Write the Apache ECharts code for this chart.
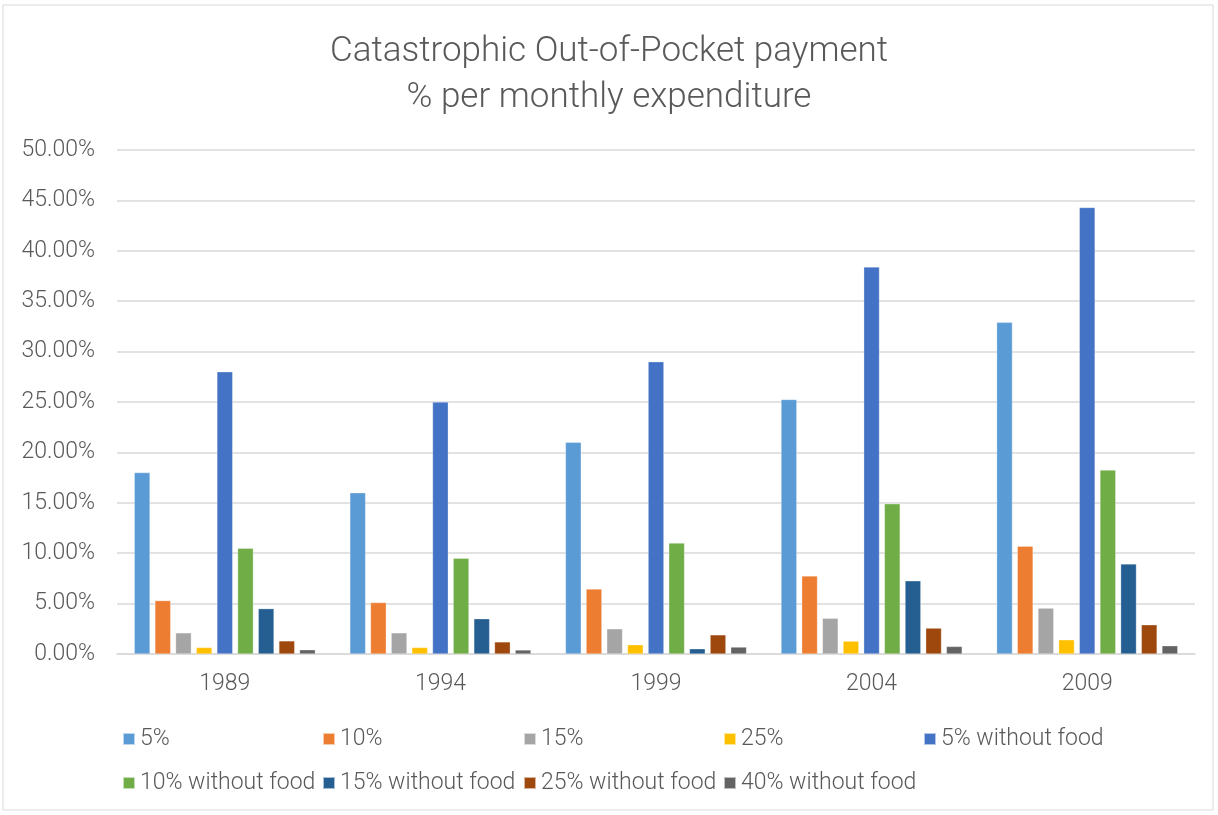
<!DOCTYPE html>
<html>
<head>
<meta charset="utf-8">
<script src="https://cdn.jsdelivr.net/npm/echarts@6/dist/echarts.min.js"></script>
<style>
html,body{margin:0;padding:0;background:#fff;}
#chart{width:1218px;height:815px;}
</style>
</head>
<body>
<div id="chart"></div>
<script>
const categories = ['1989', '1994', '1999', '2004', '2009'];
const seriesNames = ['5%', '10%', '15%', '25%', '5% without food', '10% without food', '15% without food', '25% without food', '40% without food'];
const s5 = [18.0, 16.0, 21.0, 25.25, 32.9];
const s10 = [5.3, 5.1, 6.45, 7.75, 10.7];
const s15 = [2.1, 2.1, 2.5, 3.55, 4.55];
const s25 = [0.65, 0.65, 0.92, 1.28, 1.41];
const s5wf = [28.0, 25.0, 29.0, 38.4, 44.3];
const s10wf = [10.5, 9.5, 11.0, 14.9, 18.25];
const s15wf = [4.5, 3.5, 0.52, 7.26, 8.94];
const s25wf = [1.3, 1.2, 1.9, 2.57, 2.9];
const s40wf = [0.42, 0.4, 0.69, 0.75, 0.82];
const yTicks = [0, 5, 10, 15, 20, 25, 30, 35, 40, 45, 50];

const values = [s5, s10, s15, s25, s5wf, s10wf, s15wf, s25wf, s40wf];
const colors = ['#5B9BD5', '#ED7D31', '#A5A5A5', '#FFC000', '#4472C4', '#70AD47', '#255E91', '#9E480E', '#636363'];
const FONT = 'Roboto';
const TXT = '#595959';

// legend item anchor positions (icon left x, row center y)
const legendPos = [[122, 739], [322, 739], [523, 739], [723, 739], [923, 739],
                   [122, 783], [322, 783], [523, 783], [723, 783]];

const chart = echarts.init(document.getElementById('chart'), null, {renderer: 'canvas'});
const legendText = {color: TXT, fontSize: 23, fontFamily: FONT, fontWeight: 300, lineHeight: 26};
chart.setOption({
  color: colors,
  animation: false,
  title: {
    text: 'Catastrophic Out-of-Pocket payment\n% per monthly expenditure',
    left: 'center',
    top: 24,
    textStyle: {color: TXT, fontSize: 35, fontWeight: 300, fontFamily: FONT, lineHeight: 46}
  },
  graphic: [{
    type: 'rect', shape: {x: 3, y: 5, width: 1210, height: 805},
    style: {fill: 'none', stroke: '#D9D9D9', lineWidth: 1}, silent: true
  }],
  legend: seriesNames.map((n, i) => ({
    data: [n], left: legendPos[i][0], top: legendPos[i][1] - 13, padding: 0,
    itemWidth: 12, itemHeight: 12, icon: 'rect', textStyle: legendText
  })),
  grid: {left: 117, right: 23, top: 150, bottom: 161, containLabel: false},
  xAxis: {
    type: 'category',
    data: categories,
    axisLine: {lineStyle: {color: '#D9D9D9', width: 1.5}},
    axisTick: {show: false},
    axisLabel: {color: TXT, fontSize: 23, fontFamily: FONT, fontWeight: 300, margin: 19}
  },
  yAxis: {
    type: 'value',
    min: yTicks[0],
    max: yTicks[yTicks.length - 1],
    interval: yTicks[1] - yTicks[0],
    axisLine: {show: false},
    axisTick: {show: false},
    splitLine: {lineStyle: {color: '#D9D9D9', width: 1.5}},
    axisLabel: {color: TXT, fontSize: 23, fontFamily: FONT, fontWeight: 300, margin: 22,
      formatter: v => v.toFixed(2) + '%'}
  },
  series: seriesNames.map((n, i) => ({
    name: n,
    type: 'bar',
    data: values[i],
    barGap: '31%',
    barCategoryGap: '16%',
    itemStyle: {color: colors[i], borderColor: 'rgba(255,255,255,0.6)', borderWidth: 0.5}
  }))
});
</script>
</body>
</html>
